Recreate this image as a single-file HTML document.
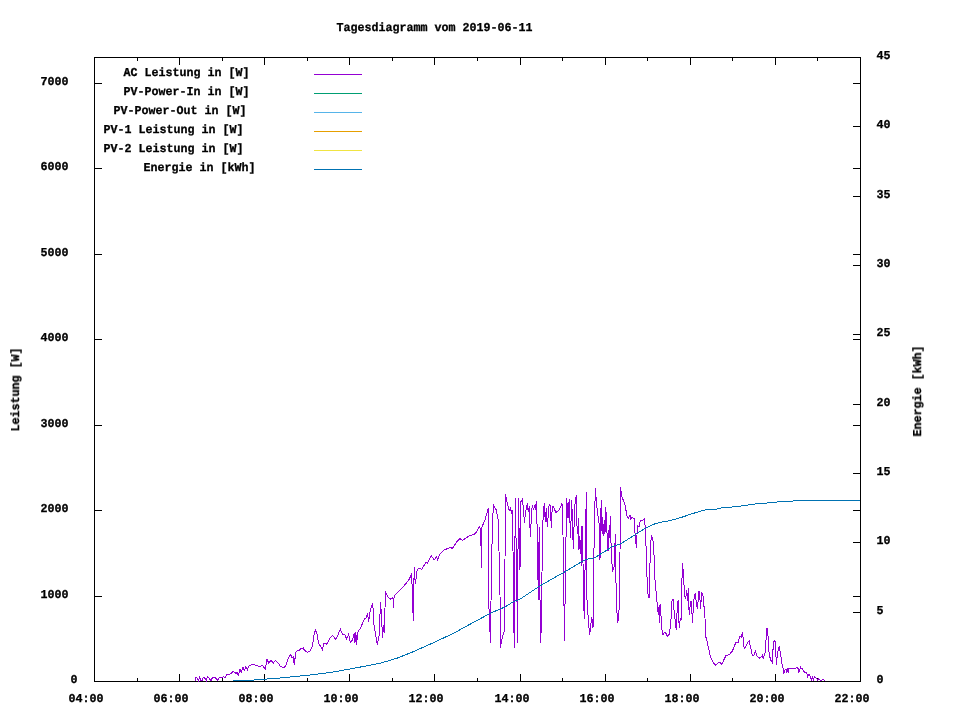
<!DOCTYPE html>
<html lang="de"><head><meta charset="utf-8"><title>Tagesdiagramm vom 2019-06-11</title>
<style>
html,body{margin:0;padding:0;background:#fff;}
body{width:960px;height:720px;overflow:hidden;}
svg{display:block;}
text{font-family:"Liberation Mono","DejaVu Sans Mono",monospace;font-weight:bold;font-size:12.0px;fill:#000;stroke:#000;stroke-width:0.3px;white-space:pre;text-rendering:geometricPrecision;}
.ax{stroke:#000;stroke-width:1;fill:none;}
.c{fill:none;stroke-width:1;stroke-linejoin:miter;}
</style></head><body>
<svg width="960" height="720" viewBox="0 0 960 720" shape-rendering="crispEdges">
<rect width="960" height="720" fill="#ffffff"/>
<rect class="ax" x="94.5" y="57.5" width="766" height="624"/>
<path class="ax" d="M94.5,682v-8M94.5,57v8M137.5,682v-4M137.5,57v4M179.5,682v-8M179.5,57v8M222.5,682v-4M222.5,57v4M264.5,682v-8M264.5,57v8M307.5,682v-4M307.5,57v4M349.5,682v-8M349.5,57v8M392.5,682v-4M392.5,57v4M434.5,682v-8M434.5,57v8M477.5,682v-4M477.5,57v4M520.5,682v-8M520.5,57v8M562.5,682v-4M562.5,57v4M605.5,682v-8M605.5,57v8M647.5,682v-4M647.5,57v4M690.5,682v-8M690.5,57v8M732.5,682v-4M732.5,57v4M775.5,682v-8M775.5,57v8M817.5,682v-4M817.5,57v4M860.5,682v-8M860.5,57v8M94,681.5h8M861,681.5h-8M94,596.5h8M861,596.5h-8M94,510.5h8M861,510.5h-8M94,425.5h8M861,425.5h-8M94,339.5h8M861,339.5h-8M94,254.5h8M861,254.5h-8M94,168.5h8M861,168.5h-8M94,83.5h8M861,83.5h-8M861,681.5h-8M861,612.5h-8M861,542.5h-8M861,473.5h-8M861,404.5h-8M861,334.5h-8M861,265.5h-8M861,196.5h-8M861,126.5h-8M861,57.5h-8"/>
<polyline class="c" stroke="#9400d3" points="195.3,681.0 195.8,677.5 197.5,678.3 198.3,680.8 199.7,676.7 200.8,680.8 202.5,680.8 203.3,677.0 205.0,678.3 206.3,680.8 207.5,676.7 209.2,678.0 210.8,680.8 212.5,677.5 214.2,677.0 215.8,678.3 217.5,680.3 219.2,678.0 221.7,677.5 223.7,676.7 225.0,677.5 226.7,674.7 230.0,674.2 233.3,671.3 235.8,673.3 237.5,672.5 238.3,676.3 240.0,669.2 241.3,672.5 243.0,667.5 244.2,670.8 245.8,666.7 247.5,670.0 248.3,666.3 253.3,664.2 256.7,665.8 260.0,666.3 262.5,665.3 265.3,669.2 267.0,659.2 268.8,663.3 270.8,660.3 273.3,663.0 275.3,660.3 278.3,663.0 280.0,665.8 283.3,668.0 285.8,665.8 288.3,658.3 290.3,654.2 292.0,657.5 293.3,656.7 294.2,664.7 295.8,652.5 297.5,650.3 299.2,650.8 300.8,648.3 303.3,648.0 304.2,650.0 307.5,652.5 310.0,650.8 312.5,645.8 314.2,634.2 315.5,630.0 317.0,634.2 318.7,643.3 320.8,646.7 322.5,650.0 323.7,643.3 326.7,644.2 330.0,638.3 332.3,635.4 335.8,639.2 338.3,634.2 340.3,629.2 342.5,634.2 345.0,635.0 346.7,639.2 348.7,634.2 350.3,642.5 352.5,640.0 354.2,633.3 355.0,642.5 355.8,631.7 356.7,644.7 357.5,632.5 360.8,627.5 364.2,619.2 365.8,618.3 367.5,614.2 368.7,621.7 370.0,611.7 372.5,603.3 373.3,610.0 374.2,629.2 375.3,631.7 377.2,644.7 379.2,635.0 380.5,602.0 381.3,612.5 382.5,637.5 383.3,625.0 384.2,633.3 385.5,592.5 388.3,597.5 390.8,599.2 393.0,597.5 393.3,607.5 394.2,595.8 398.3,591.7 403.3,586.7 408.3,580.8 411.7,574.2 412.5,598.3 413.3,620.8 414.2,567.5 415.3,584.2 417.0,570.8 418.3,568.3 421.7,569.2 425.8,562.5 427.5,563.3 431.3,555.8 434.2,560.0 436.7,556.7 437.5,560.8 439.2,555.0 444.2,550.0 450.0,547.5 452.5,548.3 457.5,540.8 460.0,538.7 462.5,540.3 469.2,535.8 474.2,534.2 476.7,531.7 479.2,526.7 480.8,530.0 481.3,567.5 482.0,526.7 485.0,520.0 488.3,508.3 488.6,600.0 490.5,643.3 491.5,560.0 493.3,505.0 496.3,510.0 498.3,520.0 500.0,595.0 500.5,647.5 501.7,640.0 504.2,631.0 505.0,561.7 505.3,494.2 507.0,501.7 509.2,510.8 510.3,508.3 511.7,512.5 512.5,510.0 513.3,575.0 514.2,647.5 515.3,498.0 516.7,575.0 517.5,643.3 518.3,498.3 520.0,569.5 520.8,501.7 522.5,499.2 523.5,510.0 524.4,522.7 525.5,513.0 527.3,503.2 528.3,512.0 529.3,506.0 530.3,537.0 531.5,515.0 532.3,504.8 533.3,509.5 534.5,506.5 535.3,508.5 536.5,501.2 537.5,545.0 538.3,600.0 539.2,527.0 540.0,600.0 540.8,643.3 541.7,600.0 542.5,529.0 543.3,515.0 544.2,503.3 545.3,521.7 546.3,508.3 547.3,527.0 549.2,504.0 550.3,505.0 551.3,527.7 552.3,506.0 553.5,506.5 555.8,512.5 559.2,510.0 562.0,503.3 563.0,535.0 564.5,640.8 565.8,548.3 566.7,498.3 568.0,518.3 569.2,499.2 570.5,537.5 571.7,500.0 573.3,549.2 574.7,506.7 576.3,495.0 577.2,534.0 578.0,531.0 578.6,518.0 579.0,549.6 579.8,536.0 580.5,554.0 581.0,540.0 581.3,565.8 582.0,525.7 583.0,563.3 584.2,619.2 585.3,553.3 586.3,491.7 587.0,600.0 588.5,622.0 589.7,635.0 591.7,616.7 593.0,628.3 593.7,563.3 594.7,515.0 595.3,488.0 596.7,505.0 598.0,515.8 599.2,524.2 600.0,559.6 600.6,520.0 601.3,500.0 601.8,530.7 602.3,517.0 602.8,534.0 603.3,524.0 603.7,535.7 604.3,519.8 604.8,534.0 605.3,507.0 605.7,532.3 606.3,512.0 606.8,527.3 607.5,545.8 608.0,551.3 609.2,526.5 609.6,538.2 610.3,516.0 611.3,553.3 612.5,571.7 614.2,566.7 615.3,534.2 616.3,603.3 617.8,623.3 619.2,608.3 620.0,555.0 620.3,487.0 621.7,495.8 625.0,505.0 627.0,515.8 628.3,518.7 630.0,515.3 630.8,519.2 632.0,517.5 634.2,518.3 635.0,533.3 636.3,547.5 637.5,525.8 639.2,526.7 640.3,520.0 642.5,520.8 644.7,518.3 645.8,540.0 647.5,591.7 649.2,598.3 650.3,550.0 651.3,536.0 652.5,537.5 653.7,546.7 655.0,580.0 656.7,598.3 658.3,615.0 659.2,605.0 659.7,622.5 660.3,604.2 661.7,628.3 663.0,635.0 665.0,631.7 667.5,636.3 669.2,634.2 670.8,623.3 672.0,600.8 673.0,599.2 674.2,611.7 676.3,630.0 677.5,601.7 678.3,600.0 679.2,628.3 680.3,618.3 681.3,619.2 682.0,578.3 682.6,563.0 683.7,580.0 684.7,595.8 685.8,598.3 686.7,590.0 687.5,600.8 688.3,588.3 689.2,615.0 690.5,602.5 691.3,600.8 692.5,622.5 693.7,600.0 695.3,593.3 696.7,606.7 697.5,608.3 698.8,591.5 699.6,591.5 700.5,609.2 701.7,591.7 703.0,595.8 704.2,608.3 705.0,618.3 705.8,636.7 707.5,643.3 710.0,655.0 712.5,661.7 715.8,665.5 718.3,662.5 720.0,662.2 721.7,664.5 725.8,655.8 729.2,654.7 732.5,650.8 735.8,642.5 738.0,642.5 740.0,635.8 741.3,637.0 742.5,632.5 744.2,648.3 746.3,645.8 747.5,642.5 749.2,640.8 750.8,648.3 752.5,655.8 754.2,655.0 755.3,650.8 756.7,655.8 759.2,658.3 761.7,656.7 762.2,655.0 763.3,658.3 765.0,653.3 765.8,643.3 766.7,628.3 767.5,628.3 768.3,640.0 769.2,655.0 770.8,660.0 772.5,663.3 773.3,641.7 774.7,640.3 775.5,643.3 776.3,664.7 777.5,653.3 779.2,645.8 780.8,655.8 782.5,666.7 783.3,669.2 783.6,674.3 784.6,670.1 786.1,669.6 786.5,673.2 787.2,668.5 788.5,673.2 788.8,668.3 796.0,668.3 796.3,667.3 797.2,668.3 797.9,667.3 798.6,672.5 799.5,671.7 800.4,667.3 801.3,669.0 802.3,668.8 804.4,672.2 806.5,672.2 807.7,676.9 809.1,674.3 810.1,676.4 811.7,680.5 812.2,676.4 813.5,680.5 814.3,676.4 816.4,678.4 817.9,680.5 818.4,679.0 821.0,680.5 823.1,679.0 824.7,681.0"/>
<polyline class="c" stroke="#0072b2" points="233.0,681.0 254.0,680.0 280.0,678.0 307.5,675.3 330.0,672.5 349.0,669.2 380.0,663.3 396.7,658.3 413.3,651.7 434.0,642.5 455.0,632.5 471.7,623.3 475.0,621.7 490.0,613.3 505.0,607.0 513.3,601.7 520.0,599.2 540.0,585.8 551.7,579.2 566.7,570.8 581.7,561.7 586.7,559.2 594.2,558.0 608.3,549.2 611.7,546.7 620.0,544.2 636.0,534.2 644.3,528.8 652.7,524.6 659.3,522.5 669.3,520.8 681.0,517.5 693.5,513.3 703.5,510.4 708.5,509.3 716.0,509.3 721.3,508.0 739.0,506.3 753.0,504.2 773.5,502.4 784.0,501.3 808.0,500.5 860.0,500.5"/>
<g style="filter:grayscale(1)" shape-rendering="auto">
<text transform="translate(336.5,31) scale(0.9722,1)">Tagesdiagramm vom 2019-06-11</text>
<text transform="translate(70.5,683) scale(0.9722,1)">0</text>
<text transform="translate(40.5,598) scale(0.9722,1)">1000</text>
<text transform="translate(40.5,512) scale(0.9722,1)">2000</text>
<text transform="translate(40.5,427) scale(0.9722,1)">3000</text>
<text transform="translate(40.5,341) scale(0.9722,1)">4000</text>
<text transform="translate(40.5,256) scale(0.9722,1)">5000</text>
<text transform="translate(40.5,170) scale(0.9722,1)">6000</text>
<text transform="translate(40.5,85) scale(0.9722,1)">7000</text>
<text transform="translate(876.5,683) scale(0.9722,1)">0</text>
<text transform="translate(876.5,614) scale(0.9722,1)">5</text>
<text transform="translate(876.5,544) scale(0.9722,1)">10</text>
<text transform="translate(876.5,475) scale(0.9722,1)">15</text>
<text transform="translate(876.5,406) scale(0.9722,1)">20</text>
<text transform="translate(876.5,336) scale(0.9722,1)">25</text>
<text transform="translate(876.5,267) scale(0.9722,1)">30</text>
<text transform="translate(876.5,198) scale(0.9722,1)">35</text>
<text transform="translate(876.5,128) scale(0.9722,1)">40</text>
<text transform="translate(876.5,59) scale(0.9722,1)">45</text>
<text transform="translate(68.5,702) scale(0.9722,1)">04:00</text>
<text transform="translate(153.5,702) scale(0.9722,1)">06:00</text>
<text transform="translate(238.5,702) scale(0.9722,1)">08:00</text>
<text transform="translate(323.5,702) scale(0.9722,1)">10:00</text>
<text transform="translate(408.5,702) scale(0.9722,1)">12:00</text>
<text transform="translate(494.5,702) scale(0.9722,1)">14:00</text>
<text transform="translate(579.5,702) scale(0.9722,1)">16:00</text>
<text transform="translate(664.5,702) scale(0.9722,1)">18:00</text>
<text transform="translate(749.5,702) scale(0.9722,1)">20:00</text>
<text transform="translate(834.5,702) scale(0.9722,1)">22:00</text>
<text transform="translate(123.5,76) scale(0.9722,1)">AC Leistung in [W]</text>
<text transform="translate(123.5,95) scale(0.9722,1)">PV-Power-In in [W]</text>
<text transform="translate(113.5,114) scale(0.9722,1)">PV-Power-Out in [W]</text>
<text transform="translate(103.5,133) scale(0.9722,1)">PV-1 Leistung in [W]</text>
<text transform="translate(103.5,152) scale(0.9722,1)">PV-2 Leistung in [W]</text>
<text transform="translate(143.5,171) scale(0.9722,1)">Energie in [kWh]</text>
<text transform="translate(19,431.5) rotate(-90) scale(0.9722,1)">Leistung [W]</text>
<text transform="translate(921,436.5) rotate(-90) scale(0.9722,1)">Energie [kWh]</text>
</g>
<path class="c" stroke="#9400d3" d="M314,74.5h48"/>
<path class="c" stroke="#009e73" d="M314,93.5h48"/>
<path class="c" stroke="#56b4e9" d="M314,112.5h48"/>
<path class="c" stroke="#e69f00" d="M314,131.5h48"/>
<path class="c" stroke="#f0e442" d="M314,150.5h48"/>
<path class="c" stroke="#0072b2" d="M314,169.5h48"/>
</svg>
</body></html>
